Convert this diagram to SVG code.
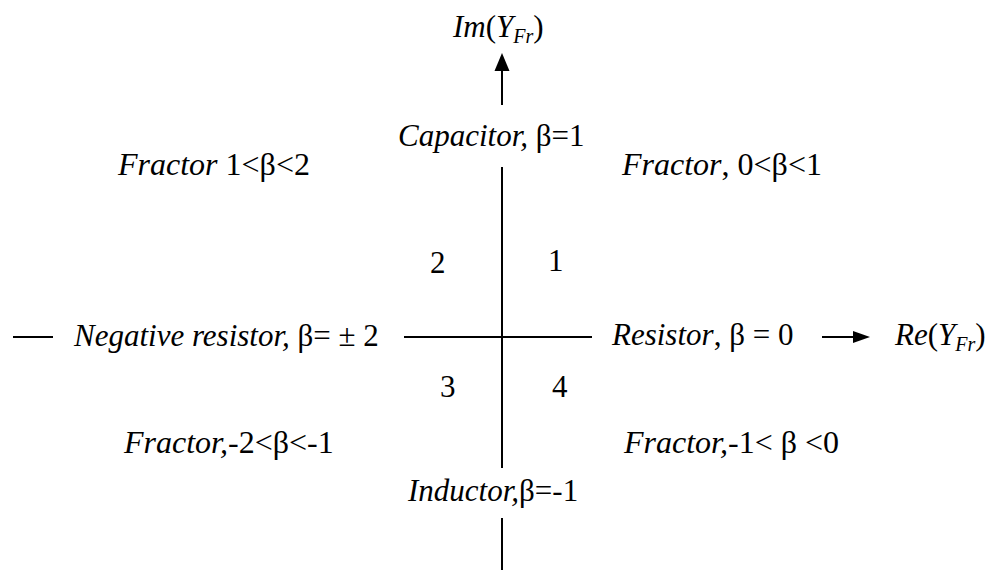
<svg xmlns="http://www.w3.org/2000/svg" width="990" height="570" viewBox="0 0 990 570">
<style>
.lbl{font-size:31px;fill:#000}
.frl{font-size:32px;fill:#000}
.ax{stroke:#000;stroke-width:2;fill:none}
.head{fill:#000}
</style>
<rect width="990" height="570" fill="#fff"/>
<g id="connectors">
<line class="ax" x1="502" y1="105" x2="502" y2="70"/>
<path class="head" d="M494.5,71 L502,53 L509.5,71 Z"/>
<line class="ax" x1="502" y1="167" x2="502" y2="468"/>
<line class="ax" x1="502" y1="518" x2="502" y2="570"/>
<line class="ax" x1="13" y1="337" x2="53" y2="337"/>
<line class="ax" x1="404" y1="337" x2="592" y2="337"/>
<line class="ax" x1="822" y1="337" x2="854" y2="337"/>
<path class="head" d="M853,331 L870,337 L853,343 Z"/>
</g>
<g id="im-axis"><text class="lbl" font-family="Liberation Serif" x="453" y="37"><tspan font-style="italic">Im</tspan>(<tspan font-style="italic">Y</tspan><tspan font-style="italic" font-size="20" dy="6">Fr</tspan><tspan dy="-6">)</tspan></text></g>
<g id="re-axis"><text class="lbl" font-family="Liberation Serif" x="895" y="345"><tspan font-style="italic">Re</tspan>(<tspan font-style="italic">Y</tspan><tspan font-style="italic" font-size="20" dy="6">Fr</tspan><tspan dy="-6">)</tspan></text></g>
<g id="capacitor"><text class="lbl" font-family="Liberation Serif" x="398" y="146"><tspan font-style="italic">Capacitor,</tspan> β=1</text></g>
<g id="inductor"><text class="lbl" font-family="Liberation Serif" x="408" y="501"><tspan font-style="italic">Inductor,</tspan>β=-1</text></g>
<g id="neg-resistor"><text class="lbl" font-family="Liberation Serif" x="74" y="346"><tspan font-style="italic">Negative resistor,</tspan> β= ± 2</text></g>
<g id="resistor"><text class="lbl" font-family="Liberation Serif" x="612" y="345"><tspan font-style="italic">Resistor</tspan>, β = 0</text></g>
<g id="q1-label"><text class="frl" font-family="Liberation Serif" x="622" y="175"><tspan font-style="italic">Fractor</tspan>, 0&lt;β&lt;1</text></g>
<g id="q2-label"><text class="frl" font-family="Liberation Serif" x="118" y="175"><tspan font-style="italic">Fractor</tspan> 1&lt;β&lt;2</text></g>
<g id="q3-label"><text class="frl" font-family="Liberation Serif" x="124" y="453"><tspan font-style="italic">Fractor,</tspan>-2&lt;β&lt;-1</text></g>
<g id="q4-label"><text class="frl" font-family="Liberation Serif" x="624" y="453"><tspan font-style="italic">Fractor,</tspan>-1&lt; β &lt;0</text></g>
<g id="n1"><text class="lbl" font-family="Liberation Serif" x="548" y="271">1</text></g>
<g id="n2"><text class="lbl" font-family="Liberation Serif" x="430" y="273">2</text></g>
<g id="n3"><text class="lbl" font-family="Liberation Serif" x="440" y="397">3</text></g>
<g id="n4"><text class="lbl" font-family="Liberation Serif" x="552" y="397">4</text></g>
</svg>
